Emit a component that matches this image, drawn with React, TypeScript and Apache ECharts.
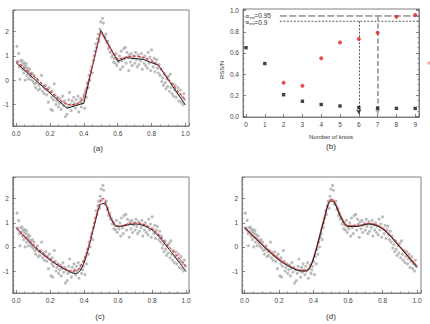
import React, { useEffect, useRef } from 'react';
import * as echarts from 'echarts';

// Noisy observations shared by panels (a), (c) and (d)
const observations: [number, number][] = [
  [0.005, 1.4], [0.01, 0.78], [0.015, 1.1], [0.02, 0.55], [0.022, 0.05], [0.027, 0.8], [0.03, 0.62],
  [0.035, 0.82], [0.038, 0.45], [0.04, 0.7], [0.045, 0.3], [0.048, 0.6], [0.05, 0.72], [0.053, 0.0],
  [0.055, 0.4], [0.058, 0.55], [0.06, 0.68], [0.063, 0.2], [0.066, 0.38], [0.07, 0.5], [0.072, 0.05],
  [0.075, 0.3], [0.08, 0.45], [0.083, 0.15], [0.088, 0.25], [0.09, 0.02], [0.095, 0.3], [0.1, -0.05],
  [0.105, 0.2], [0.11, -0.15], [0.115, -0.3], [0.12, -0.1], [0.125, 0.05], [0.13, -0.4], [0.135, -0.2],
  [0.14, -0.35], [0.145, -0.15], [0.15, 0.2], [0.155, -0.45], [0.16, -0.25], [0.165, -0.55], [0.17, -0.35],
  [0.175, -0.2], [0.18, -0.6], [0.185, -0.4], [0.19, -0.9], [0.195, -0.3], [0.2, -0.5], [0.205, -1.2],
  [0.21, -0.7], [0.212, -0.45], [0.215, -1.25], [0.22, -0.8], [0.225, -0.15], [0.23, -0.6], [0.235, -1.0],
  [0.24, -0.85], [0.245, -0.7], [0.25, -1.1], [0.255, -0.95], [0.26, -0.75], [0.265, -1.2], [0.27, -0.9],
  [0.275, -0.65], [0.28, -1.05], [0.285, -0.85], [0.29, -1.5], [0.295, -0.95], [0.3, -1.4], [0.305, -1.1],
  [0.31, -0.8], [0.315, -0.5], [0.32, -1.0], [0.325, -1.25], [0.33, -0.85], [0.335, -1.05], [0.34, -0.7],
  [0.345, -0.95], [0.35, -1.15], [0.355, -0.8], [0.36, -1.0], [0.365, -0.65], [0.37, -1.3], [0.375, -0.9],
  [0.38, -0.75], [0.385, -1.1], [0.39, -0.95], [0.395, -0.8], [0.4, -0.6], [0.405, -1.15], [0.41, -0.4],
  [0.415, -0.7], [0.42, -0.1], [0.425, -0.3], [0.43, 0.2], [0.435, 0.0], [0.44, 0.4], [0.445, 0.55],
  [0.45, 0.3], [0.455, 0.8], [0.46, 1.0], [0.465, 1.2], [0.47, 1.5], [0.475, 1.35], [0.48, 1.7],
  [0.485, 1.9], [0.49, 1.6], [0.495, 2.1], [0.5, 2.4], [0.505, 1.95], [0.51, 2.55], [0.515, 2.35],
  [0.52, 1.8], [0.525, 1.75], [0.53, 1.9], [0.535, 1.55], [0.54, 1.6], [0.545, 1.3], [0.55, 1.4],
  [0.555, 1.15], [0.56, 1.2], [0.565, 0.95], [0.57, 1.05], [0.575, 0.75], [0.58, 0.9], [0.585, 0.7],
  [0.59, 1.1], [0.595, 0.6], [0.6, 0.85], [0.605, 0.75], [0.61, 1.0], [0.615, 0.45], [0.62, 1.2],
  [0.625, 0.8], [0.63, 0.55], [0.635, 1.3], [0.64, 0.9], [0.645, 1.35], [0.65, 0.7], [0.655, 1.15],
  [0.66, 0.95], [0.665, 0.4], [0.67, 1.05], [0.675, 0.75], [0.68, 1.1], [0.685, 0.6], [0.69, 0.9],
  [0.695, 1.0], [0.7, 0.7], [0.705, 1.15], [0.71, 0.85], [0.715, 0.55], [0.72, 1.05], [0.725, 0.65],
  [0.73, 0.95], [0.735, 0.8], [0.74, 1.1], [0.745, 0.45], [0.75, 0.9], [0.755, 0.7], [0.76, 1.0],
  [0.765, 0.6], [0.77, 0.85], [0.775, 0.5], [0.78, 1.15], [0.785, 0.7], [0.79, 0.95], [0.795, 0.4],
  [0.8, 1.25], [0.805, 0.75], [0.81, 0.55], [0.815, 0.9], [0.82, 0.35], [0.825, 0.7], [0.83, 0.85],
  [0.835, 0.5], [0.84, 0.3], [0.845, 0.65], [0.85, 0.2], [0.855, 0.45], [0.86, -0.05], [0.865, 0.1],
  [0.87, -0.2], [0.875, 0.25], [0.88, -0.1], [0.885, -0.35], [0.89, 0.05], [0.895, -0.25], [0.9, 0.15],
  [0.905, -0.45], [0.91, 0.25], [0.915, -0.3], [0.92, -0.55], [0.925, -0.15], [0.93, -0.65], [0.935, -0.4],
  [0.94, -0.2], [0.945, -0.7], [0.95, -0.5], [0.955, -0.3], [0.96, -0.85], [0.965, -0.6], [0.97, -0.4],
  [0.975, -0.9], [0.98, -0.7], [0.985, -1.0], [0.99, -0.55], [0.995, -0.8],
];

// (a) piecewise-linear fits
const fitA_black: [number, number][] = [
  [0, 0.72], [0.3, -1.15], [0.4, -0.94], [0.5, 2.05], [0.6, 0.78], [0.65, 0.93], [0.75, 0.86], [0.84, 0.62], [1.0, -1.02],
];
const fitA_red: [number, number][] = [
  [0, 0.78], [0.05, 0.5], [0.1, 0.2], [0.15, -0.12], [0.2, -0.45], [0.25, -0.78], [0.3, -1.0], [0.35, -1.0],
  [0.38, -0.88], [0.4, -0.68], [0.45, 0.55], [0.5, 2.0], [0.55, 1.38], [0.6, 0.86], [0.65, 0.96], [0.7, 1.0],
  [0.75, 0.95], [0.8, 0.83], [0.85, 0.55], [0.9, 0.05], [0.95, -0.4], [1.0, -0.8],
];

// (c) smooth fits
const fitC_black: [number, number][] = [
  [0, 0.8], [0.1, 0.05], [0.2, -0.55], [0.3, -0.98], [0.35, -1.1], [0.38, -0.95], [0.42, -0.2], [0.46, 0.9],
  [0.5, 1.78], [0.52, 1.8], [0.55, 1.3], [0.58, 0.9], [0.6, 0.85], [0.7, 0.95], [0.8, 0.7], [0.9, -0.1], [1.0, -1.02],
];
const fitC_red: [number, number][] = [
  [0, 0.78], [0.1, 0.1], [0.2, -0.5], [0.3, -0.95], [0.33, -1.0], [0.37, -0.9], [0.42, -0.1], [0.46, 1.0],
  [0.5, 1.98], [0.51, 2.02], [0.55, 1.35], [0.58, 0.95], [0.6, 0.87], [0.7, 1.0], [0.8, 0.75], [0.9, 0.0], [1.0, -0.8],
];

// (d) smooth fits
const fitD_black: [number, number][] = [
  [0, 0.82], [0.1, 0.1], [0.2, -0.55], [0.3, -0.95], [0.35, -1.0], [0.38, -0.85], [0.42, 0.0], [0.46, 1.1],
  [0.5, 1.9], [0.52, 1.85], [0.56, 1.2], [0.6, 0.85], [0.65, 0.85], [0.72, 0.95], [0.8, 0.75], [0.9, 0.0], [1.0, -0.85],
];
const fitD_red: [number, number][] = [
  [0, 0.78], [0.1, 0.12], [0.2, -0.5], [0.3, -0.93], [0.35, -0.98], [0.38, -0.82], [0.42, 0.05], [0.46, 1.15],
  [0.5, 1.97], [0.52, 1.9], [0.56, 1.25], [0.6, 0.88], [0.65, 0.88], [0.72, 0.97], [0.8, 0.78], [0.9, 0.02], [1.0, -0.8],
];

// (b) RSS/N against number of knots
const knots = [0, 1, 2, 3, 4, 5, 6, 7, 8, 9];
const rssN = [0.65, 0.5, 0.205, 0.143, 0.112, 0.098, 0.084, 0.078, 0.076, 0.075];
const redKnots = [2, 3, 4, 5, 6, 7, 8, 9];
const redValues = [0.319, 0.29, 0.549, 0.7, 0.733, 0.792, 0.942, 0.959];
const alphaLevels = [0.95, 0.9];
const chosenKnots = [7, 6];

const FONT = '"Liberation Sans", Arial, sans-serif';
const near = (v: number, step: number) => Math.abs(v / step - Math.round(v / step)) < 1e-6;

function valueAxis(gridIndex: number, min: number, max: number, splitNumber: number, minorSplit: number,
  fmt: (v: number) => string, extra: any = {}) {
  return {
    type: 'value', gridIndex, min, max, splitNumber, scale: false,
    axisLine: { show: true, onZero: false, lineStyle: { color: '#808080', width: 1 } },
    axisTick: { show: true, inside: true, length: 3, lineStyle: { color: '#666', width: 0.8 } },
    minorTick: { show: true, splitNumber: minorSplit, length: 1.6, lineStyle: { color: '#777', width: 0.7 } },
    splitLine: { show: false },
    axisLabel: { fontSize: 6.5, color: '#444', fontFamily: FONT, margin: 4, formatter: fmt },
    ...extra,
  };
}

const fmtX = (v: number) => (near(v, 0.2) && v > -0.001 && v < 1.001 ? v.toFixed(1) : '');
const fmtY = (v: number) => (near(v, 1) ? String(Math.round(v)) : '');
const fmtKnot = (v: number) => (near(v, 1) && v > -0.01 && v < 9.01 ? String(Math.round(v)) : '');
const fmtRss = (v: number) => (near(v, 0.2) && v > -0.001 && v < 1.001 ? v.toFixed(1) : '');

const gridStyle = { show: true, borderColor: '#808080', borderWidth: 1, backgroundColor: '#fff', containLabel: false };

function fitSeries(axis: number, data: [number, number][], color: string, width: number, type: any, smooth: boolean, z: number) {
  return {
    type: 'line', xAxisIndex: axis, yAxisIndex: axis, data, smooth: smooth ? 0.35 : false,
    showSymbol: false, symbol: 'none', z,
    lineStyle: { color, width, type },
  };
}

function obsSeries(axis: number) {
  return {
    type: 'scatter', xAxisIndex: axis, yAxisIndex: axis, data: observations, symbolSize: 3.1, z: 2,
    itemStyle: { color: '#ababab' },
  };
}

function labelText(x: number, y: number, text: string, size = 8) {
  return {
    type: 'text', x, y, silent: true,
    style: { text, font: `${size}px ${FONT}`, fill: '#333', textAlign: 'center', textVerticalAlign: 'middle' },
  };
}

// "α_est=value" with a subscripted "est"
function legendEntry(y: number, value: string) {
  return [
    { type: 'text', x: 245.5, y, silent: true, style: { text: 'α', font: `5.5px "DejaVu Sans", sans-serif`, fill: '#333', textAlign: 'left', textVerticalAlign: 'middle' } },
    { type: 'text', x: 249.5, y: y + 1.4, silent: true, style: { text: 'est', font: `4px ${FONT}`, fill: '#333', textAlign: 'left', textVerticalAlign: 'middle' } },
    { type: 'text', x: 254.5, y, silent: true, style: { text: '=' + value, font: `6.5px ${FONT}`, fill: '#333', textAlign: 'left', textVerticalAlign: 'middle' } },
  ];
}

export default function App() {
  const ref = useRef<HTMLDivElement>(null);

  useEffect(() => {
    if (!ref.current) return;
    const chart = echarts.init(ref.current, null, { renderer: 'svg', width: 430, height: 324 });

    const option: any = {
      animation: false,
      backgroundColor: '#fff',
      grid: [
        { ...gridStyle, left: 9, top: 10, width: 180, height: 116 },
        { ...gridStyle, left: 243, top: 9, width: 176, height: 108 },
        { ...gridStyle, left: 9, top: 177, width: 180, height: 116 },
        { ...gridStyle, left: 242, top: 177, width: 179, height: 116 },
      ],
      xAxis: [
        valueAxis(0, -0.02, 1.021, 5, 4, fmtX),
        valueAxis(1, -0.16, 9.2, 9, 1, fmtKnot, { minorTick: { show: false } }),
        valueAxis(2, -0.02, 1.017, 5, 4, fmtX),
        valueAxis(3, -0.015, 1.023, 5, 4, fmtX),
      ],
      yAxis: [
        valueAxis(0, -1.88, 2.89, 5, 5, fmtY),
        valueAxis(1, -0.006, 1.016, 5, 4, fmtRss),
        valueAxis(2, -1.91, 2.9, 5, 5, fmtY),
        valueAxis(3, -1.91, 2.9, 5, 5, fmtY),
        valueAxis(1, -0.006, 1.016, 5, 4, fmtRss, { position: 'right', axisLabel: { show: false } }),
      ],
      series: [
        // (a)
        obsSeries(0),
        fitSeries(0, fitA_black, '#1a1a1a', 1, 'solid', false, 3),
        fitSeries(0, fitA_red, '#e0303a', 1.1, [3, 1.5], false, 4),
        // (c)
        obsSeries(2),
        fitSeries(2, fitC_black, '#1a1a1a', 1, 'solid', true, 3),
        fitSeries(2, fitC_red, '#e0303a', 1.1, [3, 1.5], true, 4),
        // (d)
        obsSeries(3),
        fitSeries(3, fitD_red, '#e66060', 1.5, 'solid', true, 3),
        fitSeries(3, fitD_black, '#1a1a1a', 1, 'solid', true, 4),
        // (b) threshold lines
        {
          type: 'line', xAxisIndex: 1, yAxisIndex: 1, symbol: 'none', z: 2,
          data: [[1.8, alphaLevels[0]], [9.2, alphaLevels[0]]],
          lineStyle: { color: '#555', width: 1, type: [7, 2.5] },
        },
        {
          type: 'line', xAxisIndex: 1, yAxisIndex: 1, symbol: 'none', z: 2,
          data: [[1.8, alphaLevels[1]], [9.2, alphaLevels[1]]],
          lineStyle: { color: '#333', width: 0.8, type: [2, 1.5] },
        },
        // (b) black points with the chosen-knot markers
        {
          type: 'scatter', xAxisIndex: 1, yAxisIndex: 1, symbol: 'rect', symbolSize: 3.4, z: 5,
          data: knots.map((k, i) => [k, rssN[i]]),
          itemStyle: { color: '#111' },
          markLine: {
            silent: true, symbol: ['none', 'arrow'], symbolSize: [4, 5], label: { show: false },
            data: [
              [{ coord: [chosenKnots[0], alphaLevels[0]], lineStyle: { color: '#a8a8a8', width: 2, type: [5, 2.5] } },
                { coord: [chosenKnots[0], 0.02] }],
              [{ coord: [chosenKnots[1], alphaLevels[1]], lineStyle: { color: '#333', width: 0.8, type: [2, 1.5] } },
                { coord: [chosenKnots[1], 0.02] }],
            ],
          },
        },
        {
          type: 'scatter', xAxisIndex: 1, yAxisIndex: 1, symbol: 'circle', symbolSize: 4, z: 6,
          data: redKnots.map((k, i) => [k, redValues[i]]),
          itemStyle: { color: '#e0202a' },
        },
      ],
      graphic: [
        labelText(98, 148, '(a)'),
        labelText(331, 146, '(b)'),
        labelText(100, 316, '(c)'),
        labelText(331, 316, '(d)'),
        labelText(331, 137, 'Number of knots', 6),
        {
          type: 'text', x: 222, y: 70, rotation: Math.PI / 2, silent: true,
          style: { text: 'RSS/N', font: `6px ${FONT}`, fill: '#333', textAlign: 'center', textVerticalAlign: 'middle' },
        },
        ...legendEntry(15.6, '0.95'),
        ...legendEntry(22.4, '0.9'),
        { type: 'circle', shape: { cx: 429, cy: 63, r: 1.8 }, style: { fill: '#f4b0b0' }, silent: true },
      ],
    };

    chart.setOption(option);
    return () => chart.dispose();
  }, []);

  return (
    <div
      ref={ref}
      style={{ position: 'fixed', left: 0, top: 0, width: 430, height: 324, background: '#fff' }}
    />
  );
}
